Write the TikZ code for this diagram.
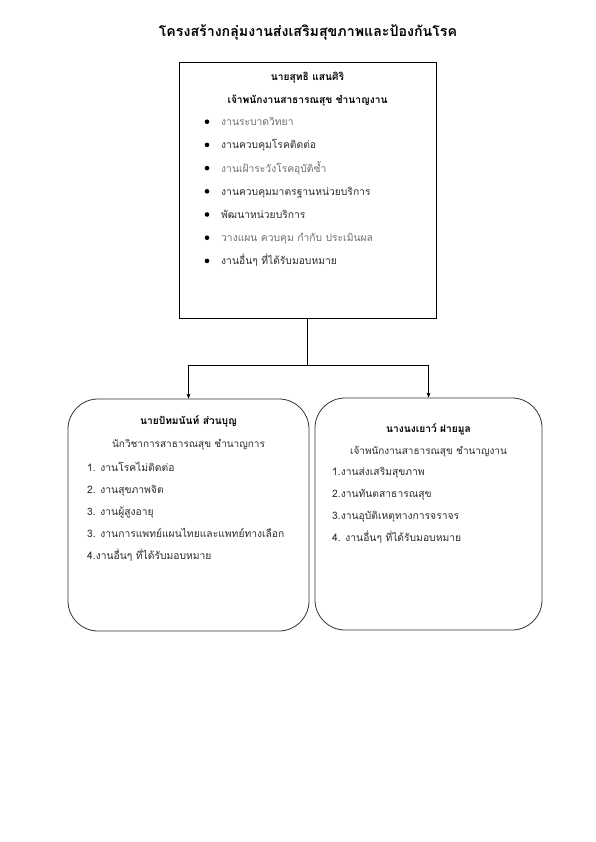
\documentclass[tikz,border=0pt]{standalone}
\usepackage{fontspec}
\setmainfont{Loma}[Script=Thai]
\usetikzlibrary{positioning, arrows.meta, calc}
\definecolor{cLINE}{HTML}{333333}
\definecolor{cTEXT}{HTML}{2B2B2B}
\definecolor{cSOFT}{HTML}{6E6E6E}
\tikzset{
  bossbox/.style={
    draw=black, line width=0.9pt,
    minimum width=257pt, minimum height=256pt,
    inner sep=0pt
  },
  staffbox/.style={
    draw=cLINE, line width=0.8pt,
    rounded corners=30pt,
    minimum height=232pt,
    inner sep=0pt
  },
  headtext/.style={
    font=\fontsize{10.2}{12}\selectfont\bfseries,
    text=black, inner sep=1pt, anchor=base
  },
  roletext/.style={
    font=\fontsize{10}{12}\selectfont,
    text=cTEXT, inner sep=1pt, anchor=base
  },
  itemtext/.style={
    font=\fontsize{10.3}{12}\selectfont,
    text=#1, anchor=base west, inner sep=1pt
  },
  itemtext/.default=cTEXT,
  bulletdot/.style={
    circle, fill=black, inner sep=0pt, minimum size=4.6pt
  },
  feed/.style={
    -{Stealth[length=5pt,width=4pt]},
    line width=0.6pt,
    draw=black
  }
}

\begin{document}
\begin{tikzpicture}[x=1pt, y=-1pt]
  \useasboundingbox (0,0) rectangle (595,842);

  \node[font=\fontsize{14.2}{17}\selectfont\bfseries] (title) at (308,32)
    {โครงสร้างกลุ่มงานส่งเสริมสุขภาพและป้องกันโรค};

  % head of the group
  \node[bossbox] (boss) at (307.5,190) {};
  \node[headtext] (bossname) at (307.5,81) {นายสุทธิ แสนศิริ};
  \node[headtext] (bossrole) at (307.5,104) {เจ้าพนักงานสาธารณสุข ชำนาญงาน};

  \foreach \txt/\col [count=\i] in {
      งานระบาดวิทยา/cSOFT,
      งานควบคุมโรคติดต่อ/cTEXT,
      งานเฝ้าระวังโรคอุบัติซ้ำ/cSOFT,
      งานควบคุมมาตรฐานหน่วยบริการ/cTEXT,
      พัฒนาหน่วยบริการ/cTEXT,
      {วางแผน ควบคุม กำกับ ประเมินผล}/cSOFT,
      งานอื่นๆ ที่ได้รับมอบหมาย/cTEXT} {
    \node[bulletdot] (dot\i) at (207,{98.5+\i*23.2}) {};
    \node[itemtext=\col] (duty\i) at (220,{102.5+\i*23.2}) {\txt};
  }

  % the two staff members
  \node[staffbox, minimum width=241pt] (pathom) at (188.5,515) {};
  \node[headtext] (pathomname) at (188.5,424) {นายปัทมนันท์ ส่วนบุญ};
  \node[roletext] (pathomrole) at (188.5,447) {นักวิชาการสาธารณสุข ชำนาญการ};
  \foreach \txt [count=\i] in {
      1. งานโรคไม่ติดต่อ,
      2. งานสุขภาพจิต,
      3. งานผู้สูงอายุ,
      3. งานการแพทย์แผนไทยและแพทย์ทางเลือก,
      4.งานอื่นๆ ที่ได้รับมอบหมาย} {
    \node[itemtext] (pathomjob\i) at (86,{449+\i*22}) {\txt};
  }

  \node[staffbox, minimum width=227pt] (nongyao) at (428.5,514) {};
  \node[headtext] (nongyaoname) at (428.5,432) {นางนงเยาว์ ฝายมูล};
  \node[roletext] (nongyaorole) at (428.5,454) {เจ้าพนักงานสาธารณสุข ชำนาญงาน};
  \foreach \txt [count=\i] in {
      1.งานส่งเสริมสุขภาพ,
      2.งานทันตสาธารณสุข,
      3.งานอุบัติเหตุทางการจราจร,
      4. งานอื่นๆ ที่ได้รับมอบหมาย} {
    \node[itemtext] (nongyaojob\i) at (331,{453+\i*22}) {\txt};
  }

  \coordinate (split) at (boss.south |- 0,365);
  \draw[line width=0.6pt] (boss.south) -- (split);
  \draw[feed] (split) -| (pathom.north);
  \draw[feed] (split) -| (nongyao.north);
\end{tikzpicture}
\end{document}
